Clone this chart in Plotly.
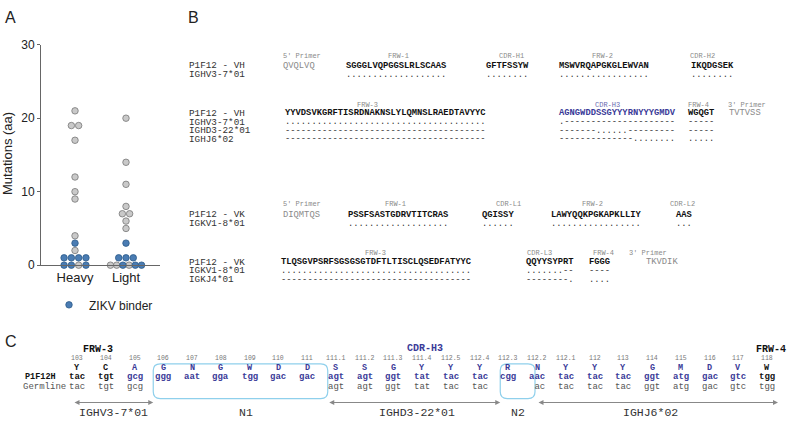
import numpy as np
import plotly.graph_objects as go

W, H = 789, 424
SANS = "Liberation Sans, Arial, sans-serif"
MONO = "Liberation Mono, Courier New, monospace"

# ---------------- Panel A data ----------------
chains = ["Heavy", "Light"]
heavy_values = [21, 19, 19, 17, 12, 10, 9, 4, 3, 2, 1, 1, 1, 1, 0, 0, 0, 0]
heavy_binder = [0, 0, 0, 0, 0, 0, 0, 0, 1, 0, 1, 1, 1, 1, 1, 1, 0, 1]
light_values = [20, 14, 11, 8, 7, 7, 6, 5, 3, 1, 1, 1, 0, 0, 0, 0, 0, 0]
light_binder = [0, 0, 0, 0, 0, 0, 0, 0, 1, 1, 1, 1, 0, 0, 1, 0, 1, 1]
y_ticks = [0, 10, 20, 30]

# ---------------- Panel B data ----------------
vh1_regions = ["5' Primer", "FRW-1", "CDR-H1", "FRW-2", "CDR-H2"]
vh1_seq = ["QVQLVQ", "SGGGLVQPGGSLRLSCAAS", "GFTFSSYW", "MSWVRQAPGKGLEWVAN", "IKQDGSEK"]
vh1_germ_names = ["IGHV3-7*01"]
vh1_germ = [["", "...................", "........", ".................", "........"]]

vh2_regions = ["FRW-3", "CDR-H3", "FRW-4", "3' Primer"]
vh2_seq = ["YYVDSVKGRFTISRDNAKNSLYLQMNSLRAEDTAVYYC", "AGNGWDDSSGYYYRNYYYGMDV", "WGQGT", "TVTVSS"]
vh2_germ_names = ["IGHV3-7*01", "IGHD3-22*01", "IGHJ6*02"]
vh2_germ = [
    ["......................................", ".---------------------", "-----", ""],
    ["--------------------------------------", "-------......---------", "-----", ""],
    ["--------------------------------------", "--------------........", ".....", ""],
]

vk1_regions = ["5' Primer", "FRW-1", "CDR-L1", "FRW-2", "CDR-L2"]
vk1_seq = ["DIQMTQS", "PSSFSASTGDRVTITCRAS", "QGISSY", "LAWYQQKPGKAPKLLIY", "AAS"]
vk1_germ_names = ["IGKV1-8*01"]
vk1_germ = [["", "...................", "......", ".................", "..."]]

vk2_regions = ["FRW-3", "CDR-L3", "FRW-4", "3' Primer"]
vk2_seq = ["TLQSGVPSRFSGSGSGTDFTLTISCLQSEDFATYYC", "QQYYSYPRT", "FGGG", "TKVDIK"]
vk2_germ_names = ["IGKV1-8*01", "IGKJ4*01"]
vk2_germ = [
    ["....................................", ".......--", "----", ""],
    ["------------------------------------", "--------.", "....", ""],
]

# ---------------- Panel C data ----------------
imgt_pos = ["103", "104", "105", "106", "107", "108", "109", "110", "111", "111.1", "111.2",
            "111.3", "111.4", "112.5", "112.4", "112.3", "112.2", "112.1", "112", "113", "114",
            "115", "116", "117", "118"]
aa_res = ["Y", "C", "A", "G", "N", "G", "W", "D", "D", "S", "S", "G", "Y", "Y", "Y", "R", "N",
          "Y", "Y", "Y", "G", "M", "D", "V", "W"]
p1f12_codons = ["tac", "tgt", "gcg", "ggg", "aat", "gga", "tgg", "gac", "gac", "agt", "agt", "ggt",
                "tat", "tac", "tac", "cgg", "aac", "tac", "tac", "tac", "ggt", "atg", "gac", "gtc", "tgg"]
germ_codons = ["tac", "tgt", "gcg", "", "", "", "", "", "", "agt", "agt", "ggt", "tat", "tac",
               "tac", "", "\u00a0ac", "tac", "tac", "tac", "ggt", "atg", "gac", "gtc", "tgg"]
in_cdr3 = [0, 0, 1, 1, 1, 1, 1, 1, 1, 1, 1, 1, 1, 1, 1, 1, 1, 1, 1, 1, 1, 1, 1, 1, 0]
gene_labels = ["IGHV3-7*01", "N1", "IGHD3-22*01", "N2", "IGHJ6*02"]

# ---------------- styles ----------------
BLUE_DOT = "#4a7cb3"
BLUE_EDGE = "#2c5a89"
GRAY_DOT = "#c9c9c9"
GRAY_EDGE = "#777777"
SEQ_BLUE = "#3a3a98"
HDR_GRAY = "#8a8a8a"
AXIS = "#666666"

fig = go.Figure()

# ---------------- Panel A ----------------
def swarm_offsets(values, step=0.143, max_width=0.61):
    values = np.asarray(values)
    offs = np.zeros(len(values))
    for v in np.unique(values):
        idx = np.where(values == v)[0]
        n = len(idx)
        if n > 1:
            s = min(step, max_width / (n - 1))
            offs[idx] = (np.arange(n) - (n - 1) / 2) * s
    return offs

first_legend = True
for ci, (vals, binder) in enumerate([(heavy_values, heavy_binder), (light_values, light_binder)]):
    vals_a = np.asarray(vals)
    b = np.asarray(binder).astype(bool)
    xs = ci + swarm_offsets(vals_a)
    fig.add_trace(go.Scatter(
        x=xs[~b], y=vals_a[~b], mode="markers", xaxis="x", yaxis="y",
        marker=dict(size=6.5, color=GRAY_DOT, line=dict(color=GRAY_EDGE, width=0.8)),
        showlegend=False, cliponaxis=False, hoverinfo="skip"))
    fig.add_trace(go.Scatter(
        x=xs[b], y=vals_a[b], mode="markers", xaxis="x", yaxis="y", name="ZIKV binder",
        marker=dict(size=6.5, color=BLUE_DOT, line=dict(color=BLUE_EDGE, width=0.8)),
        showlegend=first_legend, legendgroup="zikv", cliponaxis=False, hoverinfo="skip"))
    first_legend = False
    med = float(np.median(vals_a))
    fig.add_shape(type="line", xref="x", yref="y", x0=ci - 0.32, x1=ci + 0.33, y0=med, y1=med,
                  line=dict(color="#555555", width=1), layer="above")

# overlay pixel axes for panels B/C and text
fig.add_trace(go.Scatter(x=[None], y=[None], xaxis="x2", yaxis="y2", showlegend=False,
                         hoverinfo="skip"))

ann = []


def txt(x, y, s, size=8.8, color="#111111", bold=False, family=MONO, anchor="left", angle=0):
    if bold:
        s = "<b>" + s + "</b>"
    ann.append(dict(x=x, y=y, xref="x2", yref="y2", text=s, showarrow=False, xanchor=anchor,
                    yanchor="middle", font=dict(size=size, color=color, family=family),
                    textangle=angle, borderpad=0))


# panel letters and A labels
txt(4, 11, "A", size=16, color="#222", family=SANS)
txt(187, 11, "B", size=16, color="#222", family=SANS)
txt(4, 346, "C", size=16, color="#222", family=SANS)
txt(8, 152, "Mutations (aa)", size=13, color="#222", family=SANS, anchor="center", angle=-90)

# ---------------- Panel B ----------------
LABEL_X = 188


def draw_block(regions, seqs, germ_names, germs, main_label, seq_x, hdr_x, y_hdr, y_rows,
               seq_colors, hdr_colors):
    txt(LABEL_X, y_rows[0], main_label, size=9.3, color="#333")
    for gi, gname in enumerate(germ_names):
        txt(LABEL_X, y_rows[gi + 1], gname, size=9.3, color="#333")
    for ri, reg in enumerate(regions):
        is_primer = "Primer" in reg
        hx, hanchor = hdr_x[ri]
        txt(hx, y_hdr, reg, size=7, color=hdr_colors[ri], anchor=hanchor)
        txt(seq_x[ri], y_rows[0], seqs[ri], size=8.8, color=seq_colors[ri], bold=not is_primer)
        for gi in range(len(germ_names)):
            g = germs[gi][ri]
            if g:
                txt(seq_x[ri], y_rows[gi + 1], g, size=8.8, color="#333")


draw_block(vh1_regions, vh1_seq, vh1_germ_names, vh1_germ, "P1F12 - VH",
           [282, 345, 485, 558, 690],
           [(282, "left"), (398, "center"), (511, "center"), (602, "center"), (702, "center")],
           51, [61, 70],
           [HDR_GRAY, "#111", "#111", "#111", "#111"], [HDR_GRAY] * 5)
draw_block(vh2_regions, vh2_seq, vh2_germ_names, vh2_germ, "P1F12 - VH",
           [284, 558, 687, 728],
           [(367, "center"), (607, "center"), (698, "center"), (727, "left")],
           101, [110, 119, 128, 137],
           ["#111", SEQ_BLUE, "#111", HDR_GRAY], [HDR_GRAY, "#6a6ab0", HDR_GRAY, HDR_GRAY])
draw_block(vk1_regions, vk1_seq, vk1_germ_names, vk1_germ, "P1F12 - VK",
           [282, 347, 481, 550, 675],
           [(282, "left"), (395, "center"), (508, "center"), (592, "center"), (682, "center")],
           204, [215, 224],
           [HDR_GRAY, "#111", "#111", "#111", "#111"], [HDR_GRAY] * 5)
draw_block(vk2_regions, vk2_seq, vk2_germ_names, vk2_germ, "P1F12 - VK",
           [280, 525, 588, 645],
           [(375, "center"), (539, "center"), (603, "center"), (628, "left")],
           254, [264, 273, 282],
           ["#111", "#111", "#111", HDR_GRAY], [HDR_GRAY] * 4)

# ---------------- Panel C ----------------
COL0, COLSTEP = 77, 28.75
col_x = [COL0 + i * COLSTEP for i in range(len(imgt_pos))]
Y_POS, Y_AA, Y_COD, Y_GERM = 364, 373, 383, 393
for i, p in enumerate(imgt_pos):
    c = SEQ_BLUE if in_cdr3[i] else "#111"
    txt(col_x[i], Y_POS, p, size=6.5, color="#777", anchor="center")
    txt(col_x[i], Y_AA, aa_res[i], size=8.5, color=c, bold=True, anchor="center")
    txt(col_x[i], Y_COD, p1f12_codons[i], size=9, color=c, bold=True, anchor="center")
    if germ_codons[i]:
        txt(col_x[i], Y_GERM, germ_codons[i], size=9, color="#555", anchor="center")

txt(24, Y_COD, "P1F12H", size=8.5, color="#111", bold=True)
txt(22, Y_GERM, "Germline", size=9, color="#555")
txt(98, 354, "FRW-3", size=10, color="#111", bold=True, anchor="center")
txt(425, 353, "CDR-H3", size=10, color=SEQ_BLUE, bold=True, anchor="center")
txt(771, 354, "FRW-4", size=10, color="#111", bold=True, anchor="center")

shapes = []


def rounded_box(x0, y0, x1, y1, r=7):
    path = (f"M {x0 + r},{y0} L {x1 - r},{y0} Q {x1},{y0} {x1},{y0 + r} "
            f"L {x1},{y1 - r} Q {x1},{y1} {x1 - r},{y1} L {x0 + r},{y1} "
            f"Q {x0},{y1} {x0},{y1 - r} L {x0},{y0 + r} Q {x0},{y0} {x0 + r},{y0} Z")
    shapes.append(dict(type="path", path=path, xref="x2", yref="y2",
                       line=dict(color="#8fd0ec", width=1.2), layer="above"))


BOX_Y0, BOX_Y1 = 369, 405
n1 = (col_x[3] - 10, col_x[9] - 8)
n2 = (col_x[15] - 8, col_x[16] - 2)
rounded_box(n1[0], BOX_Y0, n1[1], BOX_Y1)
rounded_box(n2[0], BOX_Y0, n2[1], BOX_Y1)

ARROW_Y = 409
spans = [(col_x[0] - 4, n1[0]), (n1[1], n2[0]), (n2[1] + 2, col_x[-1] + 11)]
for (a0, a1) in spans:
    ann.append(dict(x=a1, y=ARROW_Y, ax=a0, ay=ARROW_Y, xref="x2", yref="y2", axref="x2",
                    ayref="y2", text="", showarrow=True, arrowhead=2, startarrowhead=2,
                    arrowside="end+start", arrowsize=1, arrowwidth=1, arrowcolor="#888",
                    standoff=0, startstandoff=0))

label_x = [113, 246, 417, 518, 650]
for lx, lab in zip(label_x, gene_labels):
    txt(lx, 419, lab, size=11.5, color="#333", anchor="center")

fig.update_layout(
    width=W, height=H, margin=dict(l=0, r=0, t=0, b=0),
    paper_bgcolor="white", plot_bgcolor="rgba(0,0,0,0)",
    font=dict(family=SANS, color="#222"),
    xaxis=dict(domain=[41 / W, 160 / W], range=[-0.667, 1.667], tickvals=[0, 1], ticktext=chains,
               showgrid=False, zeroline=False, showline=True, linecolor=AXIS, linewidth=1,
               ticks="", tickfont=dict(size=13, color="#222"), fixedrange=True, anchor="y"),
    yaxis=dict(domain=[1 - 267 / H, 1 - 39 / H], range=[0, 30], tickvals=y_ticks,
               showgrid=False, zeroline=False, showline=True, linecolor=AXIS, linewidth=1,
               ticks="outside", ticklen=3, tickcolor=AXIS, tickfont=dict(size=12, color="#222"),
               fixedrange=True, anchor="x"),
    xaxis2=dict(domain=[0, 1], range=[0, W], visible=False, fixedrange=True, anchor="y2"),
    yaxis2=dict(domain=[0, 1], range=[H, 0], visible=False, fixedrange=True, anchor="x2"),
    showlegend=True,
    legend=dict(x=49 / W, y=1 - 308 / H, xanchor="left", yanchor="middle",
                font=dict(size=12, color="#222", family=SANS), bgcolor="rgba(0,0,0,0)",
                borderwidth=0, itemclick=False, itemdoubleclick=False),
    annotations=ann, shapes=shapes,
)

fig.write_html("out.html", config={"displayModeBar": False},
               post_script="document.body.style.margin='0px';")
